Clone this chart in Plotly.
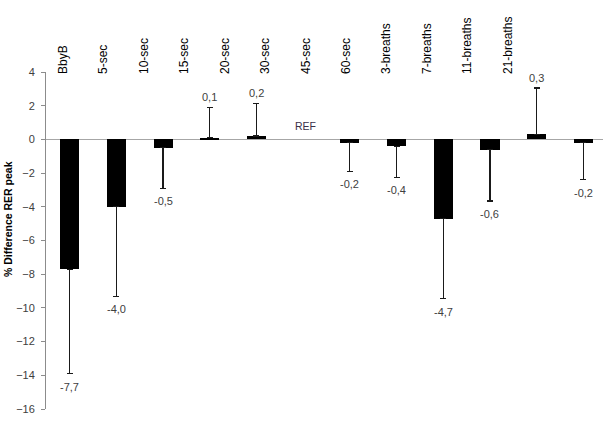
import plotly.graph_objects as go

categories = ["BbyB", "5-sec", "10-sec", "15-sec", "20-sec", "30-sec", "45-sec", "60-sec",
              "3-breaths", "7-breaths", "11-breaths", "21-breaths"]
values = [-7.7, -4.0, -0.5, 0.1, 0.2, None, -0.2, -0.4, -4.7, -0.6, 0.3, -0.2]
sd = [6.2, 5.3, 2.4, 1.8, 1.95, None, 1.7, 1.85, 4.75, 3.05, 2.75, 2.2]
ref_label = "REF"

idx = list(range(len(categories)))
err_plus = [(s if (v is not None and v >= 0) else 0) if s is not None else 0 for v, s in zip(values, sd)]
err_minus = [(s if (v is not None and v < 0) else 0) if s is not None else 0 for v, s in zip(values, sd)]

fig = go.Figure()
fig.add_trace(go.Bar(
    x=idx, y=values, width=0.41,
    marker=dict(color="black", line=dict(width=0)),
    error_y=dict(type="data", symmetric=False, array=err_plus, arrayminus=err_minus,
                 color="#1a1a1a", thickness=1.2, width=3),
    showlegend=False, hoverinfo="skip",
))
# invisible trace to carry the top category axis
fig.add_trace(go.Scatter(x=idx, y=[0] * len(idx), xaxis="x2", mode="markers",
                         marker=dict(opacity=0), showlegend=False, hoverinfo="skip"))

lab_font = dict(family="Liberation Sans", size=11, color="#404040")
annotations = []
for i, v, s in zip(idx, values, sd):
    if v is None:
        annotations.append(dict(x=i, y=0, xref="x", yref="y", text=ref_label, showarrow=False,
                                yanchor="bottom", yshift=5, xshift=2,
                                font=dict(family="Liberation Sans", size=10.5, color="#3a3048")))
        continue
    txt = f"{v:.1f}".replace(".", ",")
    if v < 0:
        annotations.append(dict(x=i, y=v - s, xref="x", yref="y", text=txt, showarrow=False,
                                yanchor="top", yshift=-5, font=lab_font))
    else:
        annotations.append(dict(x=i, y=v + s, xref="x", yref="y", text=txt, showarrow=False,
                                yanchor="bottom", yshift=2, font=lab_font))

annotations.append(dict(x=(8 - 46) / 557, y=(409 - 219) / 337, xref="paper", yref="paper",
                        xanchor="center", yanchor="middle",
                        text="<b>% Difference RER peak</b>", showarrow=False, textangle=-90,
                        font=dict(family="Liberation Sans", size=10.5, color="black")))

fig.update_layout(
    width=603, height=423,
    margin=dict(l=46, r=0, t=72, b=14),
    plot_bgcolor="white", paper_bgcolor="white",
    xaxis=dict(range=[-0.507, 11.42], showticklabels=False, showgrid=False, zeroline=False,
               showline=False, ticks=""),
    xaxis2=dict(overlaying="x", side="top", range=[-0.42, 13.35], tickmode="array",
                tickvals=idx, ticktext=categories, tickangle=-90, showgrid=False,
                zeroline=False, showline=False, ticks="", ticklabelstandoff=-3,
                tickfont=dict(family="Liberation Sans", size=12, color="black")),
    yaxis=dict(range=[-16, 4], dtick=2, showgrid=False, zeroline=True, zerolinecolor="#a6a6a6",
               zerolinewidth=1, showline=True, linecolor="#8c8c8c", linewidth=1,
               ticks="outside", ticklen=4, tickcolor="#8c8c8c", ticklabelstandoff=4,
               tickfont=dict(family="Liberation Sans", size=11, color="#404040")),
    annotations=annotations,
    bargap=0,
)

fig.write_html("out.html")
